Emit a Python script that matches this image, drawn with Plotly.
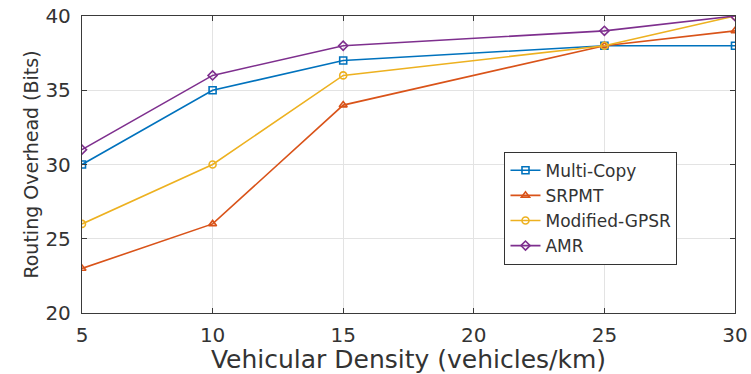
import plotly.graph_objects as go

density = [5, 10, 15, 25, 30]
multi_copy = [30, 35, 37, 38, 38]
srpmt = [23, 26, 34, 38, 39]
modified_gpsr = [26, 30, 36, 38, 40]
amr = [31, 36, 38, 39, 40]

x_ticks = [5, 10, 15, 20, 25, 30]
y_ticks = [20, 25, 30, 35, 40]

series = [
    ("Multi-Copy", multi_copy, "#0072BD", "square-open"),
    ("SRPMT", srpmt, "#D95319", "triangle-up-open"),
    ("Modified-GPSR", modified_gpsr, "#EDB120", "circle-open"),
    ("AMR", amr, "#7E2F8E", "diamond-open"),
]

FONT = "DejaVu Sans, Verdana, sans-serif"

fig = go.Figure()
for name, vals, color, sym in series:
    fig.add_trace(go.Scatter(
        x=density, y=vals, name=name, mode="lines+markers",
        line=dict(color=color, width=1.6),
        marker=dict(symbol=sym, size=7, color=color, line=dict(width=1.6, color=color)),
    ))

axis_common = dict(
    showgrid=True, gridcolor="#E3E3E3", gridwidth=1,
    showline=True, linecolor="#3A3A3A", linewidth=1.3, mirror="ticks",
    ticks="inside", ticklen=5, tickcolor="#3A3A3A",
    zeroline=False, automargin=False,
    tickfont=dict(family=FONT, size=20, color="#333333"),
)

fig.update_layout(
    width=751, height=374,
    margin=dict(l=82, r=16, t=16, b=61),
    paper_bgcolor="white", plot_bgcolor="white",
    font=dict(family=FONT, color="#333333"),
    xaxis=dict(range=[5, 30], tickvals=x_ticks, ticklabelstandoff=4,
               title=dict(text="Vehicular Density (vehicles/km)",
                          font=dict(size=25, family=FONT), standoff=1),
               **axis_common),
    yaxis=dict(range=[20, 40], tickvals=y_ticks, ticklabelstandoff=6,
               title=dict(text="Routing Overhead (Bits)",
                          font=dict(size=19, family=FONT), standoff=1),
               **axis_common),
    legend=dict(
        x=0.647, y=0.543, xanchor="left", yanchor="top",
        bgcolor="white", bordercolor="#333333", borderwidth=1,
        font=dict(size=17, color="#333333", family=FONT),
        tracegroupgap=0, itemwidth=30,
    ),
    showlegend=True,
)

fig.write_html("out.html")
